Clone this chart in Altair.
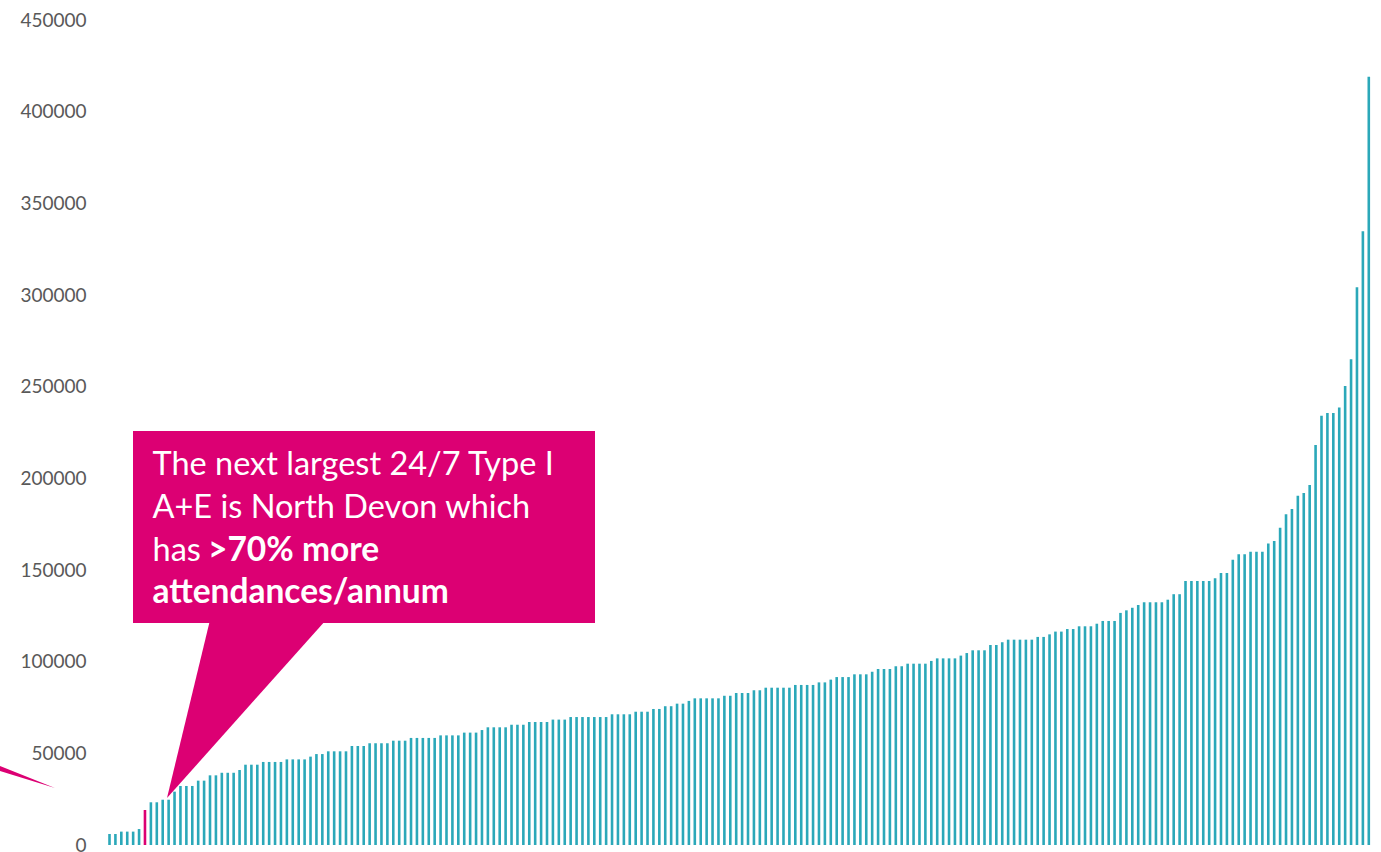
import altair as alt
import pandas as pd

# Annual attendances per A+E department, sorted ascending
values = [
    6000, 6000, 7300, 7300, 7300, 8700, 19100, 23300, 23300, 24700,
    24700, 29100, 32200, 32200, 32200, 35100, 35100, 38000, 38000, 39400,
    39400, 39400, 40900, 43800, 43800, 43800, 45300, 45300, 45300, 45300,
    46700, 46700, 46700, 46700, 48200, 49600, 49600, 51100, 51100, 51100,
    51100, 54000, 54000, 54000, 55500, 55500, 55500, 55500, 56900, 56900,
    56900, 58400, 58400, 58400, 58400, 58400, 59800, 59800, 59800, 59800,
    61300, 61300, 61300, 62700, 64200, 64200, 64200, 64200, 65600, 65600,
    65600, 67100, 67100, 67100, 67100, 68400, 68400, 68400, 69800, 69800,
    69800, 69800, 69800, 69800, 69800, 71300, 71300, 71300, 71300, 72700,
    72700, 72700, 74200, 74200, 75700, 75700, 77100, 77100, 78600, 80000,
    80000, 80000, 80000, 80000, 81400, 81400, 82900, 82900, 82900, 84400,
    84400, 85800, 85800, 85800, 85800, 85800, 87300, 87300, 87300, 87300,
    88700, 88700, 90200, 91600, 91600, 91600, 93100, 93100, 93100, 94500,
    96000, 96000, 96000, 97500, 97500, 98900, 98900, 98900, 98900, 100400,
    101800, 101800, 101800, 101800, 103300, 104700, 106200, 106200, 106200, 109100,
    109100, 110600, 112000, 112000, 112000, 112000, 112000, 113500, 113500, 114900,
    116400, 116400, 117800, 117800, 119300, 119300, 119300, 120700, 122200, 122200,
    122200, 126600, 128000, 129400, 130900, 132400, 132400, 132400, 132400, 133800,
    136800, 136800, 144000, 144000, 144000, 144000, 144000, 145500, 148400, 148400,
    155600, 158600, 158600, 160000, 160000, 160000, 164400, 165800, 173100, 180400,
    183300, 190500, 192000, 196400, 218200, 234200, 235700, 235700, 238700, 250400,
    265000, 304200, 334800, 419100,
]
highlight_rank = 7
y_ticks = [0, 50000, 100000, 150000, 200000, 250000, 300000, 350000, 400000, 450000]

callout_lines = ["The next largest 24/7 Type I", "A+E is North Devon which"]
callout_normal = "has"
callout_bold = [">70% more", "attendances/annum"]

TEAL = "#2BA8B9"
MAGENTA = "#DC0073"
W, H = 1275, 825

df = pd.DataFrame({"rank": list(range(1, len(values) + 1)), "attendances": values})

bars = alt.Chart(df).mark_bar(size=2.6).encode(
    x=alt.X("rank:Q", axis=None,
            scale=alt.Scale(domain=[-0.607, 215.05], nice=False, zero=False,
                            padding=0)),
    y=alt.Y("attendances:Q",
            scale=alt.Scale(domain=[0, 450000], nice=False, padding=0),
            axis=alt.Axis(values=y_ticks, format="d", title=None, domain=False,
                          ticks=False, grid=False, labelFont="Lato",
                          labelFontSize=19, labelColor="#595959",
                          labelPadding=14)),
    color=alt.condition(alt.datum.rank == highlight_rank,
                        alt.value(MAGENTA), alt.value(TEAL)),
)

# callout box
box = alt.Chart(pd.DataFrame({"a": [0]})).mark_rect(color=MAGENTA).encode(
    x=alt.value(33), x2=alt.value(495), y=alt.value(411), y2=alt.value(603)
)

px_x = alt.Scale(domain=[0, W], nice=False, zero=False, padding=0)
px_y = alt.Scale(domain=[0, H], nice=False, zero=False, reverse=True, padding=0)

pointer = pd.DataFrame({"py": [600, 778], "px": [110, 67], "px2": [226, 67]})
tri = alt.Chart(pointer).mark_area(color=MAGENTA, orient="horizontal").encode(
    y=alt.Y("py:Q", scale=px_y, axis=None),
    x=alt.X("px:Q", scale=px_x, axis=None),
    x2="px2:Q",
)

wedge_df = pd.DataFrame({"px": [-100, -45], "py": [746, 768], "py2": [751, 768]})
wedge = alt.Chart(wedge_df).mark_area(color=MAGENTA).encode(
    x=alt.X("px:Q", scale=px_x, axis=None),
    y=alt.Y("py:Q", scale=px_y, axis=None),
    y2="py2:Q",
)

FS = 32.5
FSB = 33.5
text_layers = []
baselines = [455, 498, 540.5, 583]
for i, line in enumerate(callout_lines):
    text_layers.append(
        alt.Chart(pd.DataFrame({"t": [line]})).mark_text(
            font="Lato", fontSize=FS, color="white", align="left",
            baseline="alphabetic").encode(
            x=alt.value(52.5), y=alt.value(baselines[i]), text="t:N")
    )
text_layers.append(
    alt.Chart(pd.DataFrame({"t": [callout_normal]})).mark_text(
        font="Lato", fontSize=FS, color="white", align="left",
        baseline="alphabetic").encode(
        x=alt.value(52.5), y=alt.value(baselines[2]), text="t:N")
)
text_layers.append(
    alt.Chart(pd.DataFrame({"t": [callout_bold[0]]})).mark_text(
        font="Lato", fontSize=FSB, fontWeight="bold", color="white", align="left",
        baseline="alphabetic").encode(
        x=alt.value(108), y=alt.value(baselines[2]), text="t:N")
)
text_layers.append(
    alt.Chart(pd.DataFrame({"t": [callout_bold[1]]})).mark_text(
        font="Lato", fontSize=FSB, fontWeight="bold", color="white", align="left",
        baseline="alphabetic").encode(
        x=alt.value(52.5), y=alt.value(baselines[3]), text="t:N")
)

overlay = alt.layer(tri, wedge)

chart = alt.layer(bars, overlay, box, *text_layers).resolve_scale(
    x="independent", y="independent"
).properties(
    width=W, height=H,
    autosize=alt.AutoSizeParams(type="none"),
    padding={"left": 100, "top": 20, "right": 6, "bottom": 7},
).configure(
    background="white",
    view=alt.ViewConfig(stroke="transparent", strokeWidth=0),
)

chart.save("out.html", embed_options={"renderer": "svg", "actions": False})
